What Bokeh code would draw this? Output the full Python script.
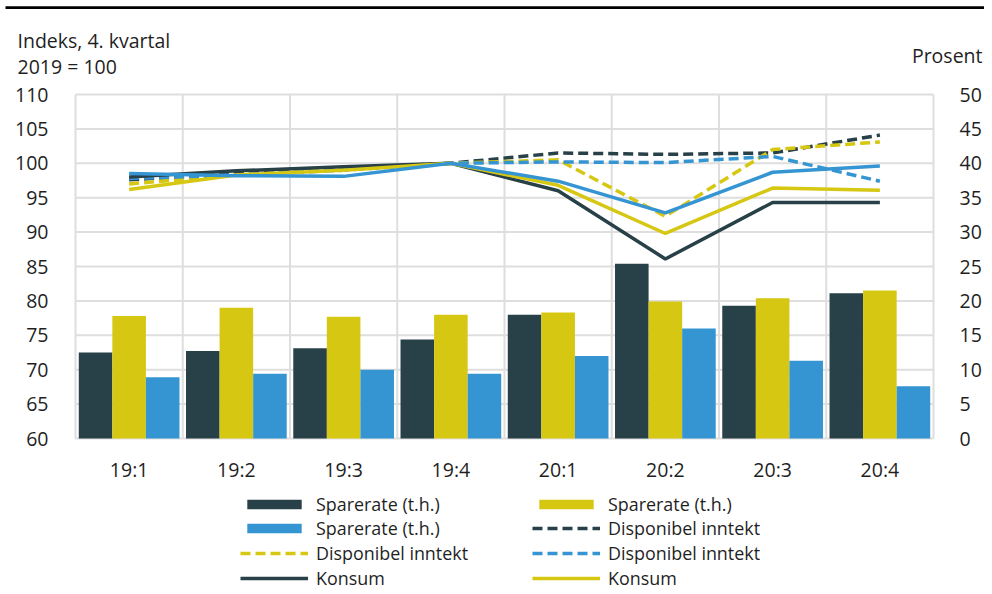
import numpy as np
from bokeh.plotting import figure
from bokeh.models import (Range1d, LinearAxis, FixedTicker, Legend, LegendItem,
                          Label, BoxAnnotation, ColumnDataSource)
from bokeh.transform import dodge
from bokeh.embed import file_html
from bokeh.resources import INLINE

quarters = ["19:1", "19:2", "19:3", "19:4", "20:1", "20:2", "20:3", "20:4"]
sparerate_dark = [12.5, 12.7, 13.1, 14.4, 18.0, 25.4, 19.3, 21.1]
sparerate_yellow = [17.8, 19.0, 17.7, 18.0, 18.3, 19.9, 20.4, 21.5]
sparerate_blue = [8.9, 9.4, 10.0, 9.4, 12.0, 16.0, 11.3, 7.6]
disp_dark = [97.6, 98.5, 99.3, 100.0, 101.5, 101.3, 101.5, 104.1]
disp_yellow = [97.0, 98.3, 99.2, 100.0, 100.5, 92.3, 102.0, 103.1]
disp_blue = [97.8, 98.3, 99.0, 100.0, 100.2, 100.1, 101.0, 97.4]
konsum_dark = [98.0, 98.9, 99.5, 100.0, 96.0, 86.1, 94.3, 94.3]
konsum_yellow = [96.2, 98.3, 99.0, 100.0, 96.8, 89.8, 96.4, 96.1]
konsum_blue = [98.5, 98.2, 98.1, 100.0, 97.4, 92.8, 98.7, 99.6]
left_ticks = [60, 65, 70, 75, 80, 85, 90, 95, 100, 105, 110]
right_ticks = [0, 5, 10, 15, 20, 25, 30, 35, 40, 45, 50]
left_title = ["Indeks, 4. kvartal", "2019 = 100"]
right_title = "Prosent"

DARK = "#284047"
YELLOW = "#d6c712"
BLUE = "#3595d2"
GRID = "#dedede"
TXT = "#1f1f1f"
FONT = "Open Sans"
FS = "19.5px"
LFS = "17.9px"

# canvas geometry (pixels): plot area spans 75..933 horizontally, 94..438 vertically
W, H = 984, 594
FL, FR, FT, FB = 75, 933, 94, 438
n = len(quarters)
LMIN, LMAX = left_ticks[0], left_ticks[-1]
RMIN, RMAX = right_ticks[0], right_ticks[-1]
xpx = (FR - FL) / n
ypx = (FB - FT) / (LMAX - LMIN)


def px(x):
    return (x - FL) / xpx


def py(y):
    return LMAX - (y - FT) / ypx


p = figure(width=W, height=H, output_backend="svg", toolbar_location=None,
           x_range=Range1d(px(0), px(W)), y_range=Range1d(py(H), py(0)),
           x_axis_type=None, y_axis_type=None, min_border=0)
p.extra_y_ranges = {"right": Range1d(py(H) - LMIN + RMIN, py(0) - LMIN + RMIN)}
p.outline_line_color = None
p.grid.visible = False

# grid / plot-area box
p.segment(x0=0, x1=n, y0=left_ticks, y1=left_ticks, line_color=GRID,
          line_width=2, level="underlay")
p.segment(x0=list(range(n + 1)), x1=list(range(n + 1)), y0=LMIN, y1=LMAX,
          line_color=GRID, line_width=2, level="underlay")

# axes
laxis = LinearAxis(fixed_location=0, ticker=FixedTicker(ticks=left_ticks))
p.add_layout(laxis, "left")
raxis = LinearAxis(y_range_name="right", fixed_location=n,
                   ticker=FixedTicker(ticks=right_ticks))
p.add_layout(raxis, "right")
xt = [i + 0.5 for i in range(n)]
baxis = LinearAxis(fixed_location=LMIN, ticker=FixedTicker(ticks=xt),
                   major_label_overrides={t: q for t, q in zip(xt, quarters)})
p.add_layout(baxis, "below")
for ax in [laxis, raxis, baxis]:
    ax.axis_line_color = None
    ax.major_tick_line_color = None
    ax.minor_tick_line_color = None
    ax.major_label_text_font = FONT
    ax.major_label_text_font_size = FS
    ax.major_label_text_color = TXT
laxis.major_label_standoff = 21
raxis.major_label_standoff = 20
baxis.major_label_standoff = 11

src = ColumnDataSource(dict(
    x=np.arange(n) + 0.5, sd=sparerate_dark, sy=sparerate_yellow, sb=sparerate_blue,
    dd=disp_dark, dy=disp_yellow, db=disp_blue,
    kd=konsum_dark, ky=konsum_yellow, kb=konsum_blue))

bw = 0.313
b1 = p.vbar(x=dodge("x", -bw), top="sd", bottom=RMIN, width=bw, source=src,
            y_range_name="right", fill_color=DARK, line_color=None)
b2 = p.vbar(x=dodge("x", 0), top="sy", bottom=RMIN, width=bw, source=src,
            y_range_name="right", fill_color=YELLOW, line_color=None)
b3 = p.vbar(x=dodge("x", bw), top="sb", bottom=RMIN, width=bw, source=src,
            y_range_name="right", fill_color=BLUE, line_color=None)

lw = 3.5
dash = "10 5"
l_dd = p.line(x="x", y="dd", source=src, line_color=DARK, line_width=lw, line_dash=dash)
l_dy = p.line(x="x", y="dy", source=src, line_color=YELLOW, line_width=lw, line_dash=dash)
l_db = p.line(x="x", y="db", source=src, line_color=BLUE, line_width=lw, line_dash=dash)
l_kd = p.line(x="x", y="kd", source=src, line_color=DARK, line_width=lw)
l_ky = p.line(x="x", y="ky", source=src, line_color=YELLOW, line_width=lw)
l_kb = p.line(x="x", y="kb", source=src, line_color=BLUE, line_width=lw)

items = [
    LegendItem(label="Sparerate (t.h.)", renderers=[b1]),
    LegendItem(label="Sparerate (t.h.)", renderers=[b2]),
    LegendItem(label="Sparerate (t.h.)", renderers=[b3]),
    LegendItem(label="Disponibel inntekt", renderers=[l_dd]),
    LegendItem(label="Disponibel inntekt", renderers=[l_dy]),
    LegendItem(label="Disponibel inntekt", renderers=[l_db]),
    LegendItem(label="Konsum", renderers=[l_kd]),
    LegendItem(label="Konsum", renderers=[l_ky]),
]
# legend laid out as 4 rows of 2 columns, one Legend per row for exact row pitch
row_centers = [503.5, 528.1, 552.7, 577.3]
ROW_H = 24.5
for r, yc in enumerate(row_centers):
    lg = Legend(items=items[2 * r:2 * r + 2], location=(240, H - (yc + ROW_H / 2)),
                orientation="horizontal", glyph_width=68, glyph_height=12,
                label_width=216, label_height=20, spacing=-3, padding=0, margin=0,
                border_line_color=None, background_fill_alpha=0,
                label_text_font=FONT, label_text_font_size=LFS,
                label_text_color=TXT, label_standoff=8)
    p.add_layout(lg, "center")

# top rule and axis titles
p.add_layout(BoxAnnotation(left=px(5), right=px(W), top=py(5.7), bottom=py(8.4),
                           fill_color="#000000", fill_alpha=1, line_color=None))
for txt, xx, yy, align in [(left_title[0], 17, 40, "left"),
                           (left_title[1], 17, 65.5, "left"),
                           (right_title, 982, 55, "right")]:
    p.add_layout(Label(x=px(xx), y=py(yy), text=txt, text_font=FONT,
                       text_font_size=FS, text_color=TXT, text_align=align,
                       text_baseline="middle"))

open("out.html", "w").write(file_html(p, INLINE))
